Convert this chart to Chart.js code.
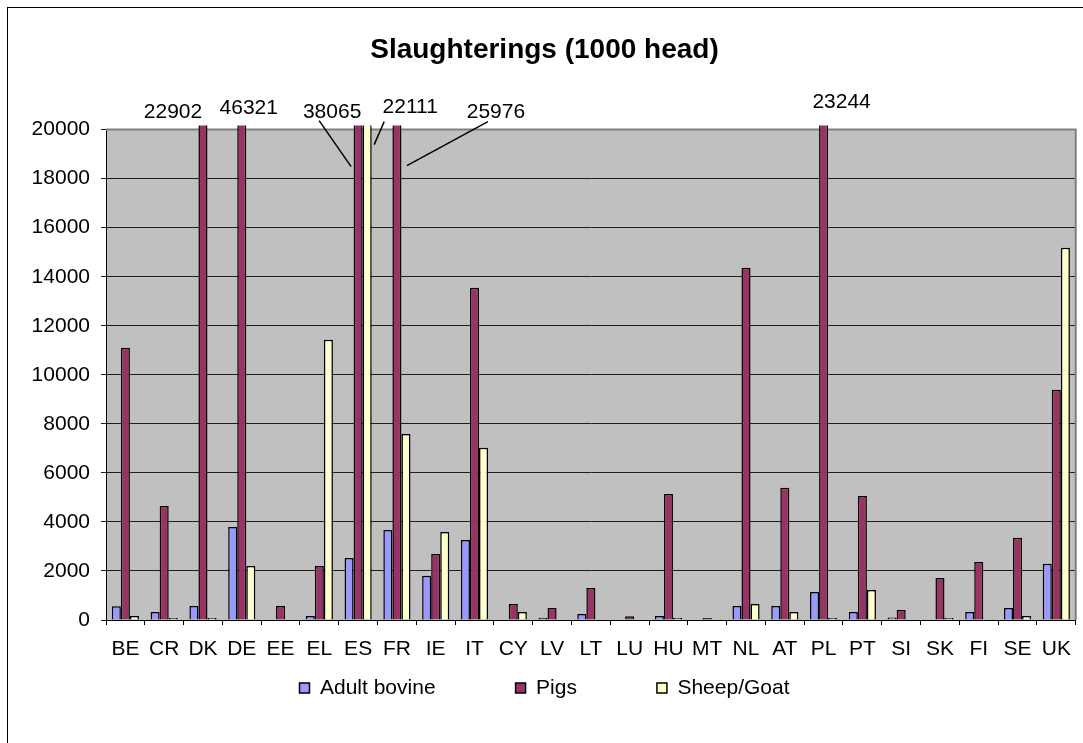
<!DOCTYPE html>
<html>
<head>
<meta charset="utf-8">
<script src="https://cdn.jsdelivr.net/npm/chart.js@4"></script>
<style>
  html, body { margin: 0; padding: 0; background: #fff; }
</style>
</head>
<body>
<canvas id="myChart" width="1083" height="743"></canvas>
<script>
// Data
const categories = ['BE', 'CR', 'DK', 'DE', 'EE', 'EL', 'ES', 'FR', 'IE', 'IT', 'CY', 'LV', 'LT',
  'LU', 'HU', 'MT', 'NL', 'AT', 'PL', 'PT', 'SI', 'SK', 'FI', 'SE', 'UK'];
const adultBovine = [560, 330, 570, 3790, 0, 160, 2530, 3670, 1800, 3260, 0, 90, 245,
  0, 160, 0, 570, 570, 1140, 330, 100, 0, 330, 490, 2290];
const pigs = [11100, 4650, 22902, 46321, 570, 2200, 38065, 25976, 2690, 13550, 650, 490, 1310,
  150, 5140, 80, 14370, 5390, 23244, 5060, 410, 1710, 2370, 3350, 9390];
const sheepGoat = [160, 80, 80, 2200, 0, 11430, 22111, 7590, 3590, 7020, 330, 0, 0,
  0, 80, 0, 650, 330, 80, 1220, 0, 80, 0, 160, 15180];
const yMax = 20000;
const yStep = 2000;

const FONT = "'Liberation Sans', Arial, sans-serif";

// grey plot area + outer frame
const plotFrame = {
  id: 'plotFrame',
  beforeDraw(chart) {
    const { ctx, chartArea: a } = chart;
    ctx.save();
    ctx.fillStyle = '#fff';
    ctx.fillRect(0, 0, chart.width, chart.height);
    ctx.strokeStyle = '#000';
    ctx.lineWidth = 1;
    ctx.strokeRect(7.5, 7.5, chart.width + 20, chart.height + 20);
    ctx.fillStyle = '#c0c0c0';
    ctx.fillRect(a.left, a.top, a.right - a.left, a.bottom - a.top);
    ctx.restore();
  },
  beforeDatasetsDraw(chart) {
    const { ctx, chartArea: a } = chart;
    ctx.save();
    ctx.strokeStyle = '#808080';
    ctx.lineWidth = 2;
    ctx.beginPath();
    ctx.moveTo(a.left, a.top);
    ctx.lineTo(a.right, a.top);
    ctx.lineTo(a.right, a.bottom);
    ctx.stroke();
    ctx.restore();
  },
};

// values of bars that run past the axis top
const callouts = {
  id: 'callouts',
  afterDatasetsDraw(chart, args, opts) {
    const { ctx, chartArea: a, scales: { y } } = chart;
    ctx.save();
    ctx.font = opts.font;
    ctx.fillStyle = '#000';
    ctx.strokeStyle = '#000';
    ctx.lineWidth = 1.5;
    ctx.textAlign = 'center';
    ctx.textBaseline = 'middle';
    opts.items.forEach((c) => {
      const value = chart.data.datasets[c.dataset].data[c.index];
      if (value <= y.max) return;
      const bar = chart.getDatasetMeta(c.dataset).data[c.index];
      const lx = bar.x + c.dx;
      ctx.fillText(String(value), lx, a.top + c.dy);
      if (c.line) {
        ctx.beginPath();
        ctx.moveTo(lx + c.line[0], a.top + c.line[1]);
        ctx.lineTo(bar.x + c.line[2], a.top + c.line[3]);
        ctx.stroke();
      }
    });
    ctx.restore();
  },
};

const barClip = { left: 5, top: 4, right: 5, bottom: 5 };

const data = {
  labels: categories,
  datasets: [
    {
      label: 'Adult bovine',
      data: adultBovine,
      backgroundColor: '#9999ff',
      borderColor: '#000',
      borderWidth: 1.5,
      clip: barClip,
    },
    {
      label: 'Pigs',
      data: pigs,
      backgroundColor: '#993366',
      borderColor: '#000',
      borderWidth: 1.5,
      clip: barClip,
    },
    {
      label: 'Sheep/Goat',
      data: sheepGoat,
      backgroundColor: '#ffffcc',
      borderColor: '#000',
      borderWidth: 1.5,
      clip: barClip,
    },
  ],
};

const config = {
  type: 'bar',
  data,
  options: {
    responsive: false,
    animation: false,
    categoryPercentage: 0.7,
    barPercentage: 1.0,
    layout: { padding: { left: 10, right: 4, top: 0, bottom: 12 } },
    plugins: {
      title: {
        display: true,
        text: 'Slaughterings (1000 head)',
        color: '#000',
        font: { family: FONT, size: 28, weight: 'bold' },
        padding: { top: 33, bottom: 63 },
      },
      legend: {
        position: 'bottom',
        labels: {
          color: '#000',
          font: { family: FONT, size: 21 },
          boxWidth: 10,
          boxHeight: 10,
          padding: 80,
        },
      },
      tooltip: { enabled: false },
      callouts: {
        font: `21px ${FONT}`,
        items: [
          { dataset: 1, index: 2, dx: -30, dy: -17 },
          { dataset: 1, index: 3, dx: 7, dy: -21 },
          { dataset: 1, index: 6, dx: -26, dy: -17, line: [-13, -9, -7, 37] },
          { dataset: 2, index: 6, dx: 43, dy: -22, line: [-26, -8, 7, 15] },
          { dataset: 1, index: 7, dx: 99, dy: -17, line: [-8, -8, 10, 36] },
          { dataset: 1, index: 18, dx: 18, dy: -27 },
        ],
      },
    },
    scales: {
      x: {
        grid: { drawOnChartArea: false, drawTicks: true, tickLength: 5, color: '#000', offset: true },
        border: { color: '#000', width: 1 },
        ticks: {
          color: '#000',
          font: { family: FONT, size: 21 },
          padding: 12,
          autoSkip: false,
          maxRotation: 0,
        },
        afterFit(scale) {
          // legend sits over the label band; let the labels draw unclipped
          scale.height = -22.5;
          scale._computeLabelArea = () => null;
        },
      },
      y: {
        min: 0,
        max: yMax,
        grid: { color: '#1e1e1e', tickLength: 5, drawTicks: true },
        border: { color: '#000', width: 1 },
        ticks: {
          stepSize: yStep,
          color: '#000',
          font: { family: FONT, size: 21 },
          padding: 11,
          callback: (v) => String(v),
        },
        afterFit(scale) { scale.width = 96; },
      },
    },
  },
  plugins: [plotFrame, callouts],
};

const myChart = new Chart(document.getElementById('myChart'), config);
</script>
</body>
</html>
